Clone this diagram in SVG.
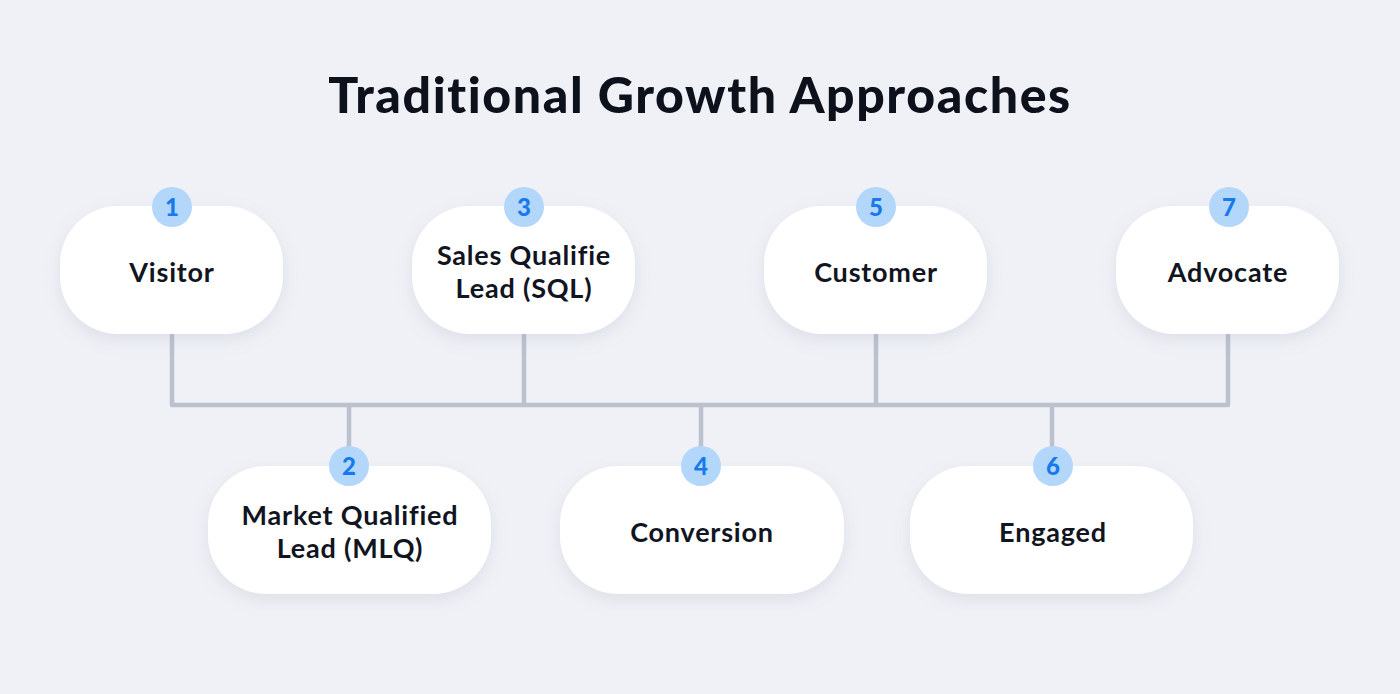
<svg xmlns="http://www.w3.org/2000/svg" width="1400" height="694" viewBox="0 0 1400 694">
<defs>
<filter id="sh" x="-20%" y="-20%" width="140%" height="150%">
<feDropShadow dx="0" dy="6" stdDeviation="8" flood-color="#8a93a8" flood-opacity="0.18"/>
</filter>
<style>
.node{fill:#ffffff;filter:url(#sh)}
.lbl{font-family:"Lato","Liberation Sans",sans-serif;font-weight:700;font-size:27px;letter-spacing:0.8px;fill:#111421;text-anchor:middle}
.badge{fill:#b3d7fb}
.num{font-family:"Lato","Liberation Sans",sans-serif;font-weight:900;font-size:24px;fill:#1779ec;text-anchor:middle}
.wire{stroke:#bbc2cd;stroke-width:4.5;fill:none;stroke-linecap:round;stroke-linejoin:round}
.title{font-family:"Lato","Liberation Sans",sans-serif;font-weight:900;font-size:50px;letter-spacing:1.6px;fill:#0d111c;text-anchor:middle}
</style>
</defs>
<rect width="1400" height="694" fill="#eff1f6"/>
<text class="title" x="700" y="113">Traditional Growth Approaches</text>
<g id="connectors">
<path class="wire" d="M172 334 V405 H1228 V334"/>
<path class="wire" d="M524 334 V405"/>
<path class="wire" d="M876 334 V405"/>
<path class="wire" d="M349 405 V466"/>
<path class="wire" d="M701 405 V466"/>
<path class="wire" d="M1052 405 V466"/>
</g>
<g id="n1"><rect class="node" x="60" y="206" width="223" height="128" rx="58"/><circle class="badge" cx="172" cy="207" r="20"/><text class="num" x="172" y="216">1</text><text class="lbl" x="172" y="282">Visitor</text></g>
<g id="n3"><rect class="node" x="412" y="206" width="223" height="128" rx="58"/><circle class="badge" cx="524" cy="207" r="20"/><text class="num" x="524" y="216">3</text><text class="lbl" x="524" y="265">Sales Qualifie</text><text class="lbl" x="524" y="298">Lead (SQL)</text></g>
<g id="n5"><rect class="node" x="764" y="206" width="223" height="128" rx="58"/><circle class="badge" cx="876" cy="207" r="20"/><text class="num" x="876" y="216">5</text><text class="lbl" x="876" y="282">Customer</text></g>
<g id="n7"><rect class="node" x="1116" y="206" width="223" height="128" rx="58"/><circle class="badge" cx="1229" cy="207" r="20"/><text class="num" x="1229" y="216">7</text><text class="lbl" x="1228" y="282">Advocate</text></g>
<g id="n2"><rect class="node" x="208" y="466" width="283" height="128" rx="58"/><circle class="badge" cx="349" cy="466" r="20"/><text class="num" x="349" y="475">2</text><text class="lbl" x="350" y="525">Market Qualified</text><text class="lbl" x="350" y="558">Lead (MLQ)</text></g>
<g id="n4"><rect class="node" x="560" y="466" width="284" height="128" rx="58"/><circle class="badge" cx="701" cy="466" r="20"/><text class="num" x="701" y="475">4</text><text class="lbl" x="702" y="542">Conversion</text></g>
<g id="n6"><rect class="node" x="910" y="466" width="283" height="128" rx="58"/><circle class="badge" cx="1053" cy="466" r="20"/><text class="num" x="1053" y="475">6</text><text class="lbl" x="1053" y="542">Engaged</text></g>
</svg>
